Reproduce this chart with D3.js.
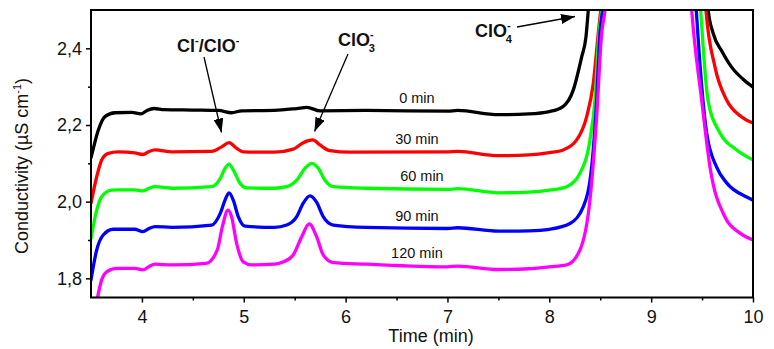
<!DOCTYPE html>
<html>
<head>
<meta charset="utf-8">
<script src="https://cdn.jsdelivr.net/npm/d3@7"></script>
<style>
  body { margin: 0; background: #fff; }
  svg { display: block; font-family: "Liberation Sans", Arial, sans-serif; }
</style>
</head>
<body>
<svg width="774" height="349"></svg>
<script>

var trace_0 = [[3.5,2.115],[3.507,2.122],[3.572,2.187],[3.637,2.222],[3.736,2.232],[3.90,2.233],[3.99,2.229],[4.05,2.238],[4.12,2.243],[4.22,2.240],[4.5,2.239],[4.75,2.238],[4.88,2.232],[4.98,2.237],[5.3,2.238],[5.52,2.243],[5.62,2.246],[5.75,2.237],[6.2,2.238],[7.0,2.236],[7.1,2.238],[7.5,2.227],[7.8,2.229],[8.0,2.235],[8.134,2.248],[8.235,2.291],[8.318,2.378],[8.36,2.43],[8.383,2.5],[8.43,2.65],[8.6,3.0],[9.0,3.3],[9.45,3.0],[9.53,2.62],[9.56,2.5],[9.608,2.44],[9.70,2.39],[9.79,2.351],[9.9,2.32],[10,2.299]];
var trace_30 = [[3.5,1.996],[3.556,2.065],[3.605,2.109],[3.67,2.126],[3.768,2.13],[3.93,2.127],[4.01,2.123],[4.07,2.131],[4.13,2.135],[4.292,2.130],[4.685,2.131],[4.783,2.143],[4.855,2.154],[4.931,2.139],[4.995,2.130],[5.3,2.129],[5.486,2.137],[5.584,2.154],[5.677,2.161],[5.748,2.148],[5.846,2.133],[6.043,2.129],[7.0,2.130],[7.1,2.131],[7.5,2.120],[7.8,2.122],[8.0,2.128],[8.137,2.135],[8.269,2.161],[8.367,2.222],[8.432,2.309],[8.481,2.44],[8.505,2.5],[8.55,2.65],[8.7,3.0],[9.0,3.3],[9.4,3.0],[9.5,2.65],[9.538,2.5],[9.627,2.351],[9.741,2.265],[9.889,2.221],[10,2.205]];
var trace_60 = [[3.5,1.904],[3.556,1.978],[3.605,2.013],[3.70,2.030],[3.768,2.031],[3.93,2.031],[4.01,2.028],[4.07,2.035],[4.13,2.039],[4.292,2.035],[4.685,2.039],[4.77,2.061],[4.816,2.087],[4.855,2.098],[4.897,2.083],[4.963,2.048],[5.029,2.036],[5.3,2.035],[5.421,2.039],[5.52,2.056],[5.601,2.087],[5.667,2.1],[5.732,2.087],[5.797,2.056],[5.879,2.039],[6.2,2.035],[7.0,2.032],[7.1,2.034],[7.5,2.023],[7.8,2.025],[8.0,2.030],[8.171,2.039],[8.301,2.074],[8.399,2.161],[8.448,2.265],[8.488,2.439],[8.514,2.5],[8.56,2.65],[8.7,3.0],[9.0,3.3],[9.38,3.0],[9.45,2.65],[9.486,2.5],[9.558,2.265],[9.676,2.179],[9.84,2.135],[10,2.109]];
var trace_90 = [[3.5,1.796],[3.556,1.874],[3.62,1.913],[3.718,1.928],[3.93,1.928],[4.01,1.922],[4.07,1.930],[4.13,1.935],[4.292,1.933],[4.685,1.939],[4.77,1.970],[4.816,2.004],[4.855,2.023],[4.897,2.004],[4.946,1.961],[5.012,1.936],[5.3,1.933],[5.421,1.939],[5.52,1.961],[5.584,1.996],[5.65,2.015],[5.716,1.998],[5.78,1.961],[5.879,1.939],[6.2,1.933],[7.0,1.930],[7.1,1.932],[7.5,1.923],[7.8,1.924],[8.0,1.928],[8.203,1.943],[8.334,1.987],[8.416,2.091],[8.465,2.265],[8.498,2.44],[8.524,2.5],[8.57,2.65],[8.7,3.0],[9.0,3.3],[9.35,3.0],[9.41,2.65],[9.443,2.5],[9.545,2.179],[9.643,2.090],[9.741,2.049],[9.938,2.012],[10,2.004]];
var trace_120 = [[3.53,1.70],[3.605,1.796],[3.654,1.817],[3.752,1.826],[3.93,1.826],[4.01,1.822],[4.07,1.831],[4.13,1.837],[4.292,1.835],[4.63,1.839],[4.74,1.874],[4.79,1.935],[4.845,1.978],[4.88,1.961],[4.93,1.891],[4.995,1.843],[5.08,1.835],[5.3,1.837],[5.39,1.843],[5.486,1.861],[5.568,1.908],[5.643,1.942],[5.716,1.908],[5.78,1.861],[5.879,1.841],[6.2,1.837],[7.0,1.830],[7.1,1.832],[7.5,1.823],[7.8,1.825],[8.0,1.830],[8.171,1.835],[8.301,1.874],[8.399,2.004],[8.465,2.222],[8.514,2.439],[8.547,2.5],[8.59,2.65],[8.7,3.0],[9.0,3.3],[9.3,3.0],[9.36,2.65],[9.398,2.5],[9.496,2.265],[9.578,2.09],[9.725,1.96],[9.872,1.918],[10,1.900]];

var traces = [trace_0, trace_30, trace_60, trace_90, trace_120];
var trace_names = ["0 min", "30 min", "60 min", "90 min", "120 min"];
var trace_colors = ["#000000", "#ff0000", "#00ff00", "#0000ff", "#ff00ff"];

var x_ticks = [4, 5, 6, 7, 8, 9, 10];
var x_minor = [4.5, 5.5, 6.5, 7.5, 8.5, 9.5];
var y_ticks = [1.8, 2.0, 2.2, 2.4];
var y_minor = [1.9, 2.1, 2.3];

var svg = d3.select("svg");
var plot_left = 91, plot_right = 753, plot_top = 10, plot_bottom = 297.5;

var x = d3.scaleLinear().domain([3.5, 10]).range([plot_left, plot_right]);
var y = d3.scaleLinear().domain([1.75, 2.5]).range([plot_bottom, plot_top]);

svg.append("clipPath").attr("id", "plot_clip")
  .append("rect").attr("x", plot_left).attr("y", plot_top)
  .attr("width", plot_right - plot_left).attr("height", plot_bottom - plot_top);

// traces
var line = d3.line()
  .x(function(d){ return x(d[0]); })
  .y(function(d){ return y(d[1]); })
  .curve(d3.curveMonotoneX);

svg.append("g").attr("clip-path", "url(#plot_clip)")
  .selectAll("path").data(traces).enter()
  .append("path")
  .attr("d", line)
  .attr("fill", "none")
  .attr("stroke", function(d, i){ return trace_colors[i]; })
  .attr("stroke-width", 3.3)
  .attr("stroke-linejoin", "round")
  .attr("stroke-linecap", "round");

// axes
function fmt(d){ return d3.format(".1f")(d).replace(".", ","); }

var gx = svg.append("g").attr("transform", "translate(0," + plot_bottom + ")")
  .call(d3.axisBottom(x).tickValues(x_ticks).tickSize(5).tickPadding(8).tickFormat(d3.format("d")));
var gxm = svg.append("g").attr("transform", "translate(0," + plot_bottom + ")")
  .call(d3.axisBottom(x).tickValues(x_minor).tickSize(3).tickFormat(""));
var gy = svg.append("g").attr("transform", "translate(" + plot_left + ",0)")
  .call(d3.axisLeft(y).tickValues(y_ticks).tickSize(5).tickPadding(4).tickFormat(fmt));
var gym = svg.append("g").attr("transform", "translate(" + plot_left + ",0)")
  .call(d3.axisLeft(y).tickValues(y_minor).tickSize(3).tickFormat(""));

[gx, gxm, gy, gym].forEach(function(g){
  g.select(".domain").remove();
  g.selectAll("line").attr("stroke", "#000").attr("stroke-width", 1.5);
  g.selectAll("text").attr("font-size", 18).attr("fill", "#111")
    .attr("font-family", "'Liberation Sans', Arial, sans-serif");
});

svg.append("rect")
  .attr("x", plot_left).attr("y", plot_top)
  .attr("width", plot_right - plot_left).attr("height", plot_bottom - plot_top)
  .attr("fill", "none").attr("stroke", "#000").attr("stroke-width", 2);

// axis titles
svg.append("text").attr("x", 431).attr("y", 342).attr("text-anchor", "middle")
  .attr("font-size", 18).attr("fill", "#111").text("Time (min)");

var ylab = svg.append("text").attr("transform", "translate(28,166) rotate(-90)")
  .attr("text-anchor", "middle").attr("font-size", 18).attr("fill", "#111");
ylab.append("tspan").text("Conductivity (\u00b5S cm");
ylab.append("tspan").attr("font-size", 11).attr("dy", -7).text("-1");
ylab.append("tspan").attr("dy", 7).text(")");

// trace labels, placed just above each trace at t = 6.7
function value_at(trace, t){
  for (var i = 1; i < trace.length; i++){
    if (trace[i][0] >= t){
      var a = trace[i-1], b = trace[i];
      return a[1] + (b[1] - a[1]) * (t - a[0]) / (b[0] - a[0]);
    }
  }
}
svg.selectAll("text.trace_label").data(traces).enter()
  .append("text").attr("class", "trace_label")
  .attr("x", function(d, i){ return x(6.7) + (i === 2 ? 5 : 0); })
  .attr("y", function(d){ return y(value_at(d, 6.7)) - 7.5; })
  .attr("text-anchor", "middle").attr("font-size", 14.5).attr("fill", "#111")
  .text(function(d, i){ return trace_names[i]; });

// peak annotations : text pieces with raised "-" and an optional subscript under it
function ion_label(px, py, parts, sub){
  var g = svg.append("g").attr("font-weight", "bold").attr("fill", "#111");
  var t = g.append("text").attr("x", px).attr("y", py).attr("font-size", 18);
  var raised = false;
  parts.forEach(function(part){
    t.append("tspan").attr("font-size", 18).attr("dy", raised ? 8 : 0).text(part);
    t.append("tspan").attr("font-size", 11).attr("dy", -8).text("-");
    raised = true;
  });
  if (sub){
    var w = t.node().getComputedTextLength();
    g.append("text").attr("x", px + w - 5).attr("y", py + 6).attr("font-size", 11).text(sub);
  }
}
ion_label(177, 52, ["Cl", "/ClO"]);
ion_label(338, 46, ["ClO"], "3");
ion_label(475, 37, ["ClO"], "4");

svg.append("defs").append("marker").attr("id", "head")
  .attr("viewBox", "0 0 14 10").attr("refX", 14).attr("refY", 5)
  .attr("markerWidth", 14).attr("markerHeight", 10).attr("markerUnits", "userSpaceOnUse")
  .attr("orient", "auto")
  .append("path").attr("d", "M0,0 L14,5 L0,10 Z").attr("fill", "#000");

var arrows = [[204, 57, 221.5, 132.5], [348, 54, 314.5, 131.5], [517, 27, 575, 16.5]];
svg.selectAll("line.arrow").data(arrows).enter()
  .append("line").attr("class", "arrow")
  .attr("x1", function(d){ return d[0]; }).attr("y1", function(d){ return d[1]; })
  .attr("x2", function(d){ return d[2]; }).attr("y2", function(d){ return d[3]; })
  .attr("stroke", "#000").attr("stroke-width", 1.3)
  .attr("marker-end", "url(#head)");

</script>
</body>
</html>
